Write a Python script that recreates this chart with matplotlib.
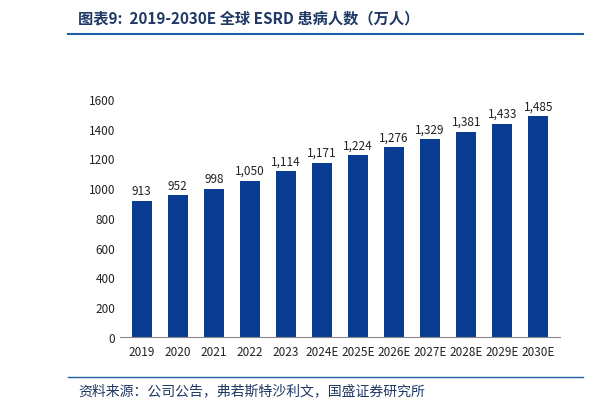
import matplotlib
matplotlib.use("Agg")
import matplotlib.pyplot as plt

plt.rcParams['font.family'] = ['Noto Sans CJK SC', 'DejaVu Sans']

years = ["2019","2020","2021","2022","2023","2024E","2025E","2026E","2027E","2028E","2029E","2030E"]
values = [913, 952, 998, 1050, 1114, 1171, 1224, 1276, 1329, 1381, 1433, 1485]
yticks = [0, 200, 400, 600, 800, 1000, 1200, 1400, 1600]

W, H = 611, 410
fig = plt.figure(figsize=(W/100, H/100), dpi=100)
ax = fig.add_axes([120/W, 1-338/H, 440/W, 238/H])
bar_color = "#0a3c91"
ax.bar(range(len(years)), values, width=0.55, color=bar_color)
for i, v in enumerate(values):
    ax.text(i, v + 25, f"{v:,}", ha="center", va="bottom", fontsize=8.5, color="#222222")
ax.set_xlim(-0.6, len(years) - 0.4)
ax.set_ylim(0, 1600)
ax.set_yticks(yticks)
ax.set_xticks(range(len(years)))
ax.set_xticklabels(years)
ax.tick_params(labelsize=8.5, colors="#222222", length=0)
ax.tick_params(axis="x", pad=6)
for s in ["top", "right", "left"]:
    ax.spines[s].set_visible(False)
ax.spines["bottom"].set_color("#888888")

fig.text(78/W, 1-18/H, "图表9:  2019-2030E 全球 ESRD 患病人数（万人）", fontsize=11,
         style="italic", fontweight="bold", color="#1f3864", va="center")
fig.add_artist(plt.Line2D([68/W, 583/W], [1-35/H, 1-35/H], color="#1f5fa8", lw=1.5))
fig.add_artist(plt.Line2D([68/W, 583/W], [1-378/H, 1-378/H], color="#1f5fa8", lw=1.0))
fig.text(78/W, 1-391/H, "资料来源：公司公告，弗若斯特沙利文，国盛证券研究所", fontsize=10,
         style="italic", color="#1f3864", va="center")
fig.savefig("out.png", dpi=100)
